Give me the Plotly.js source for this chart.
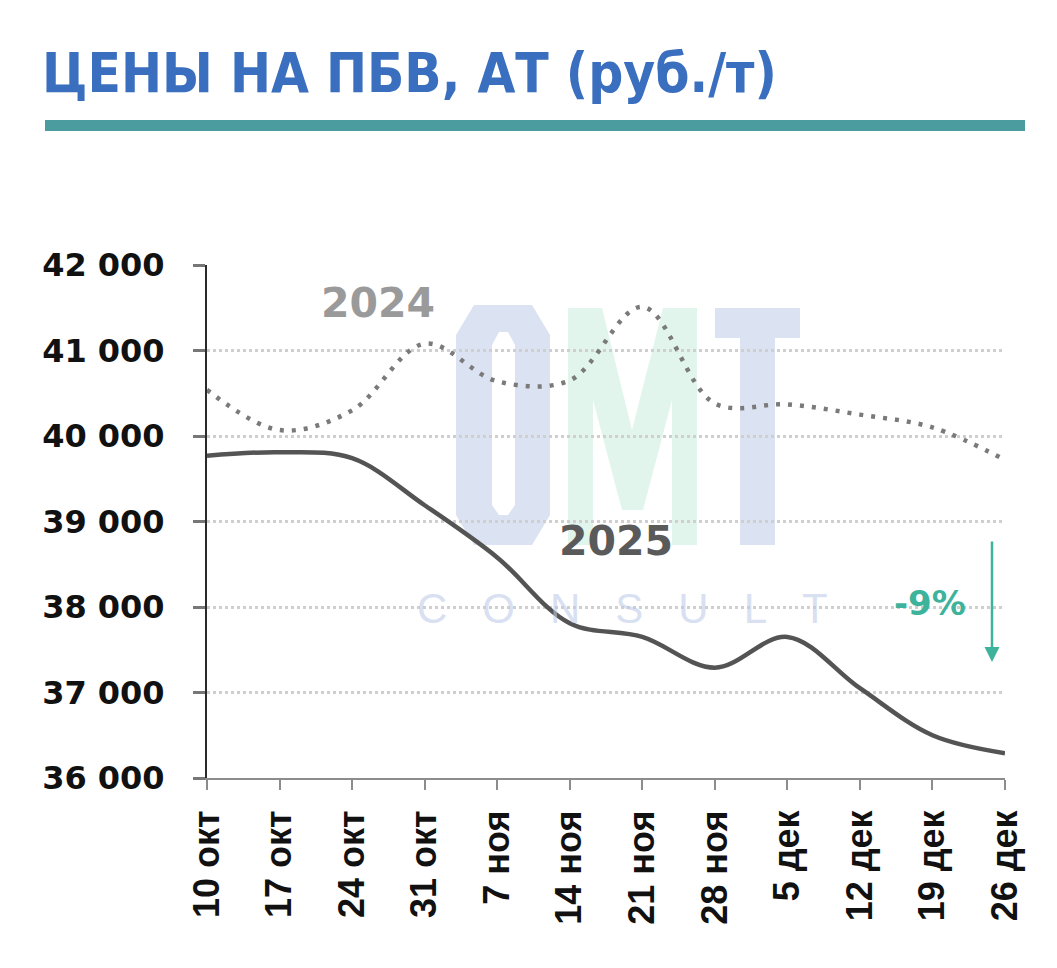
<!DOCTYPE html>
<html><head><meta charset="utf-8">
<script src="https://cdn.plot.ly/plotly-3.0.1.min.js"></script>
<style>html,body{margin:0;padding:0;background:#fff}</style>
</head><body><div id="chart" style="width:1057px;height:968px"></div>
<script>
const categories = ["10 окт","17 окт","24 окт","31 окт","7 ноя","14 ноя","21 ноя","28 ноя","5 дек","12 дек","19 дек","26 дек"];
const prices2024 = [40540, 40070, 40300, 41080, 40640, 40650, 41510, 40380, 40370, 40250, 40100, 39720];
const prices2025 = [39770, 39810, 39740, 39190, 38580, 37810, 37650, 37290, 37650, 37050, 36500, 36290];
const yTicks = [36000, 37000, 38000, 39000, 40000, 41000, 42000];
const yTickLabels = ["36 000","37 000","38 000","39 000","40 000","41 000","42 000"];

// pixel helpers for decorations (plot area 207..1005 x 265..778)
const L = 207, R = 1005, T = 265, B = 778;
const px = v => (v - L) / (R - L);
const py = v => (B - v) / (B - T);

const traces = [
  {x: categories, y: prices2024, type: 'scatter', mode: 'lines', name: '2024',
   line: {color: '#7a7a7a', width: 4.5, dash: '4px,8px', shape: 'spline', smoothing: 1.0}},
  {x: categories, y: prices2025, type: 'scatter', mode: 'lines', name: '2025',
   line: {color: '#545454', width: 4.5, shape: 'spline', smoothing: 1.0}}
];

function P(pts){ return 'M' + pts.map(p => px(p[0]) + ',' + py(p[1])).join(' L') + ' Z'; }

const wmBlue = 'rgba(190,203,232,0.55)';
const wmGreen = 'rgba(200,236,220,0.55)';
const shapes = [
  {type: 'rect', xref: 'paper', yref: 'paper', x0: px(45), x1: px(1025), y0: py(131), y1: py(120),
   fillcolor: '#4a9c9f', line: {width: 0}, layer: 'above'},
  // watermark "O"
  {type: 'path', xref: 'paper', yref: 'paper', layer: 'below', fillcolor: wmBlue, line: {width: 0},
   fillrule: 'evenodd',
   path: P([[474,305],[532,305],[550,335],[550,515],[532,545],[474,545],[456,515],[456,335]]) + ' ' +
         P([[499,332],[508,332],[515,345],[515,505],[508,515],[499,515],[492,505],[492,345]])},
  // watermark "M"
  {type: 'path', xref: 'paper', yref: 'paper', layer: 'below', fillcolor: wmGreen, line: {width: 0},
   path: P([[568,545],[568,308],[602,308],[632,430],[663,308],[697,308],[697,545],[672,545],[672,400],[643,510],[622,510],[593,400],[593,545]])},
  // watermark "T"
  {type: 'path', xref: 'paper', yref: 'paper', layer: 'below', fillcolor: wmBlue, line: {width: 0},
   path: P([[715,308],[800,308],[800,338],[775,338],[775,545],[740,545],[740,338],[715,338]])}
];

const nb = '\u00a0\u00a0\u00a0';
const annotations = [
  {x: px(378), y: py(303), xref: 'paper', yref: 'paper', xanchor: 'center', yanchor: 'middle', text: '2024', showarrow: false,
   font: {family: 'DejaVu Sans', size: 41, color: '#9a9a9a', weight: 'bold'}},
  {x: px(616), y: py(541), xref: 'paper', yref: 'paper', xanchor: 'center', yanchor: 'middle', text: '2025', showarrow: false,
   font: {family: 'DejaVu Sans', size: 41, color: '#5a5a5a', weight: 'bold'}},
  {x: px(930), y: py(603), xref: 'paper', yref: 'paper', xanchor: 'center', yanchor: 'middle', text: '-9%', showarrow: false,
   font: {family: 'DejaVu Sans', size: 34, color: '#3db39b', weight: 'bold'}},
  {x: px(992), y: py(662), xref: 'paper', yref: 'paper', ax: px(992), ay: py(540), axref: 'paper', ayref: 'paper',
   text: '', showarrow: true, arrowhead: 2, arrowsize: 1.2, arrowwidth: 2.5, arrowcolor: '#3db39b'},
  {x: px(622), y: py(608), xref: 'paper', yref: 'paper', xanchor: 'center', yanchor: 'middle',
   text: ['C','O','N','S','U','L','T'].join(nb), showarrow: false,
   font: {family: 'Liberation Sans', size: 42, color: 'rgba(190,203,232,0.6)'}}
];

const layout = {
  width: 1057, height: 968,
  margin: {l: L, r: 1057 - R, t: T, b: 968 - B, pad: 0},
  paper_bgcolor: '#ffffff', plot_bgcolor: '#ffffff',
  showlegend: false,
  title: {text: 'ЦЕНЫ НА ПБВ, АТ (руб./т)', xref: 'container', yref: 'container',
          x: 42/1057, xanchor: 'left', y: (968-73)/968, yanchor: 'middle',
          font: {family: 'Liberation Sans Narrow, DejaVu Sans Condensed, sans-serif', size: 54.5, color: '#3a6fbf', weight: 'bold'}},
  xaxis: {type: 'category', range: [0, 11], showgrid: false, zeroline: false,
          showline: true, linecolor: '#8c8c8c', linewidth: 2,
          ticks: 'outside', ticklen: 10, tickwidth: 2, tickcolor: '#8c8c8c',
          tickangle: -90, ticklabelstandoff: 6,
          tickfont: {family: 'Liberation Sans', size: 36, color: '#111', weight: 'bold'}},
  yaxis: {range: [36000, 42000], tickvals: yTicks, ticktext: yTickLabels,
          showgrid: true, gridcolor: '#cfcfcf', gridwidth: 3, griddash: 'dot', zeroline: false,
          showline: true, linecolor: '#2a2a2a', linewidth: 2,
          ticks: 'outside', ticklen: 12, tickwidth: 3, tickcolor: '#777',
          ticklabelstandoff: 22,
          tickfont: {family: 'DejaVu Sans', size: 32, color: '#111', weight: 'bold'}},
  shapes: shapes,
  annotations: annotations
};

Plotly.newPlot('chart', traces, layout, {displayModeBar: false, responsive: false});
</script>
</body></html>
